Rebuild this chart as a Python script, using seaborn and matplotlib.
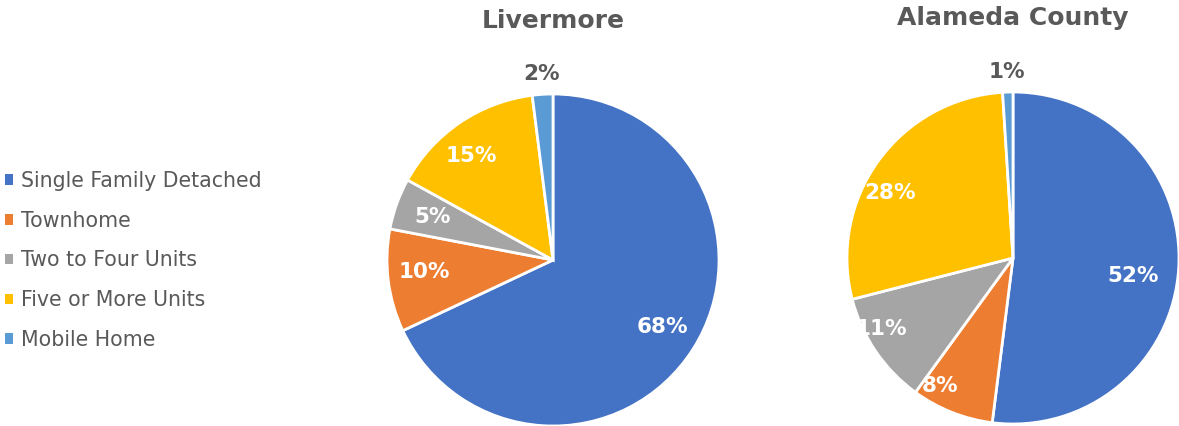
import numpy as np
import matplotlib
matplotlib.use("Agg")
import matplotlib.pyplot as plt
from matplotlib.patches import Patch
import seaborn as sns

# Housing stock by structure type (share of units, %)
categories = ["Single Family Detached", "Townhome", "Two to Four Units",
              "Five or More Units", "Mobile Home"]
livermore = [68, 10, 5, 15, 2]
alameda = [52, 8, 11, 28, 1]
titles = ["Livermore", "Alameda County"]

sns.set_theme(style="white")
plt.rcParams["font.family"] = ["DejaVu Sans"]

palette = sns.color_palette(["#4472C4", "#ED7D31", "#A5A5A5", "#FFC000", "#5B9BD5"])
text_grey = "#595959"

W, H = 1179, 426
fig = plt.figure(figsize=(W / 100, H / 100), dpi=100)

# pie centres / radius in pixels; value labels placed at (radius fraction, angle shift in degrees)
layouts = [
    dict(cx=553, cy=260, r=166, title_y=21,
         lab_r=[0.77, 0.78, 0.77, 0.80, 1.12], lab_da=[1, -2, 0, 4, 0]),
    dict(cx=1013, cy=258, r=166, title_y=18,
         lab_r=[0.73, 0.89, 0.90, 0.84, 1.12], lab_da=[-5, -8, -6, 8, 0]),
]

for values, title, lay in zip([livermore, alameda], titles, layouts):
    r = lay["r"]
    ax = fig.add_axes([(lay["cx"] - r) / W, (H - lay["cy"] - r) / H, 2 * r / W, 2 * r / H])
    wedges, _ = ax.pie(values, colors=palette, startangle=90, counterclock=False,
                       radius=1.0, wedgeprops=dict(edgecolor="white", linewidth=2))
    for w, v, lr, da in zip(wedges, values, lay["lab_r"], lay["lab_da"]):
        mid = np.deg2rad((w.theta1 + w.theta2) / 2 + da)
        color = "white" if lr < 1 else text_grey
        ax.text(lr * np.cos(mid), lr * np.sin(mid), f"{v}%", ha="center", va="center",
                fontsize=15.5, fontweight="bold", color=color)
    ax.set_xlim(-1, 1)
    ax.set_ylim(-1, 1)
    ax.set_aspect("equal")
    ax.axis("off")
    for p in ax.patches:
        p.set_clip_on(False)
    fig.text(lay["cx"] / W, 1 - lay["title_y"] / H, title, ha="center", va="center",
             fontsize=18, fontweight="bold", color=text_grey)

handles = [Patch(facecolor=c, edgecolor="none") for c in palette]
leg = fig.legend(handles, categories, loc="upper left", bbox_to_anchor=(5 / W, 1 - 171 / H),
                 frameon=False, fontsize=14.8, handlelength=0.4, handleheight=0.4,
                 handletextpad=0.4, labelspacing=0.96, borderaxespad=0, borderpad=0)
for t in leg.get_texts():
    t.set_color(text_grey)

fig.savefig("out.png", dpi=100, facecolor="white")
